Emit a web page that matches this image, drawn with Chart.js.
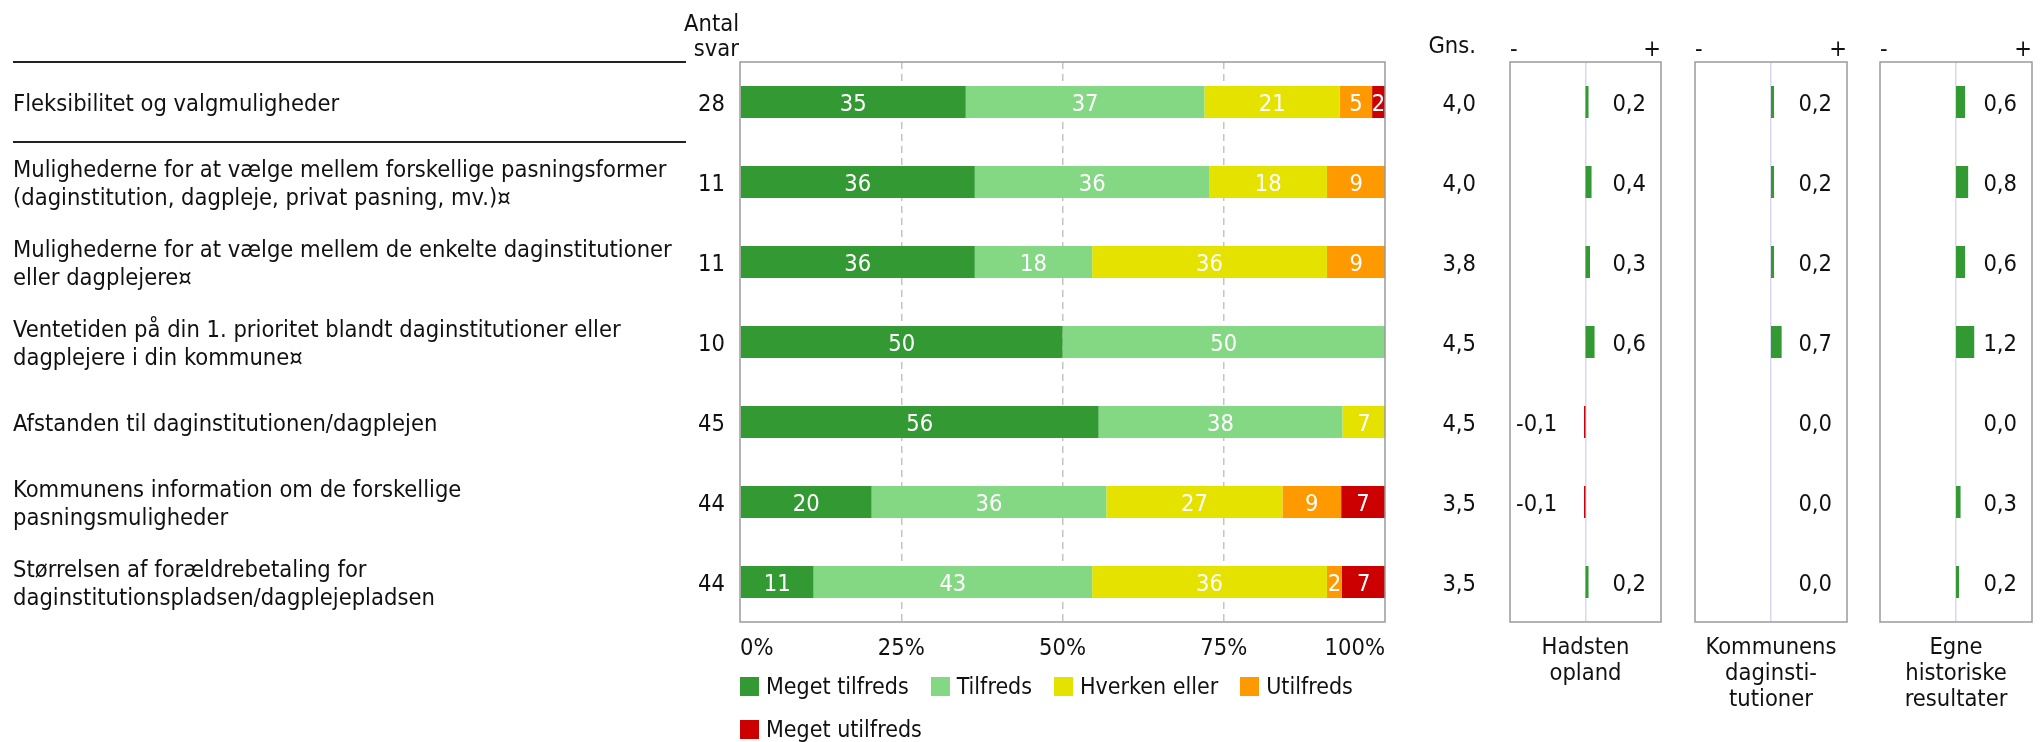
<!DOCTYPE html>
<html>
<head>
<meta charset="utf-8">
<script src="https://cdn.jsdelivr.net/npm/chart.js@4.4.1/dist/chart.umd.min.js"></script>
<style>
  html, body { margin: 0; padding: 0; background: #fff; }
  #wrap { position: relative; width: 2040px; height: 742px; overflow: hidden;
          font-family: 'DejaVu Sans Condensed', 'DejaVu Sans', sans-serif; color: #111; }
  canvas { position: absolute; top: 0; }
  #legend { position: absolute; left: 740px; top: 676px; width: 660px; display: flex; flex-wrap: wrap;
            column-gap: 22px; row-gap: 23px; font-size: 23px; }
  #legend .item { display: flex; align-items: center; height: 20px; white-space: nowrap; }
  #legend .box { width: 19px; height: 19px; margin-right: 7px; }
</style>
</head>
<body>
<div id="wrap">
  <canvas id="main" width="1490" height="742" style="left:0px"></canvas>
  <canvas id="p0" width="171" height="742" style="left:1500px"></canvas>
  <canvas id="p1" width="172" height="742" style="left:1685px"></canvas>
  <canvas id="p2" width="170" height="742" style="left:1870px"></canvas>
  <div id="legend"></div>
</div>
<script>
const FONT = "'DejaVu Sans Condensed', 'DejaVu Sans', sans-serif";

const questions = [
  ['Fleksibilitet og valgmuligheder'],
  ['Mulighederne for at vælge mellem forskellige pasningsformer', '(daginstitution, dagpleje, privat pasning, mv.)¤'],
  ['Mulighederne for at vælge mellem de enkelte daginstitutioner', 'eller dagplejere¤'],
  ['Ventetiden på din 1. prioritet blandt daginstitutioner eller', 'dagplejere i din kommune¤'],
  ['Afstanden til daginstitutionen/dagplejen'],
  ['Kommunens information om de forskellige', 'pasningsmuligheder'],
  ['Størrelsen af forældrebetaling for', 'daginstitutionspladsen/dagplejepladsen']
];
const antalSvar = [28, 11, 11, 10, 45, 44, 44];
const gennemsnit = [4.0, 4.0, 3.8, 4.5, 4.5, 3.5, 3.5];
const antalHeader = ['Antal', 'svar'];
const gnsHeader = 'Gns.';

const categories = ['Meget tilfreds', 'Tilfreds', 'Hverken eller', 'Utilfreds', 'Meget utilfreds'];
const colors = ['#339933', '#84d884', '#e6e200', '#ff9900', '#cc0000'];
const megetTilfreds = [35, 36.4, 36.4, 50, 55.6, 20.4, 11.4];
const tilfreds = [37, 36.4, 18.2, 50, 37.8, 36.4, 43.2];
const hverkenEller = [21, 18.2, 36.4, 0, 6.7, 27.3, 36.4];
const utilfreds = [5, 9.1, 9.1, 0, 0, 9.1, 2.3];
const megetUtilfreds = [2, 0, 0, 0, 0, 6.8, 6.8];
const series = [megetTilfreds, tilfreds, hverkenEller, utilfreds, megetUtilfreds];
const pctStep = 25;

const panelTitles = [['Hadsten', 'opland'], ['Kommunens', 'daginsti-', 'tutioner'], ['Egne', 'historiske', 'resultater']];
const hadstenOpland = [0.2, 0.4, 0.3, 0.6, -0.1, -0.1, 0.2];
const kommunensDaginstitutioner = [0.2, 0.2, 0.2, 0.7, 0.0, 0.0, 0.0];
const egneHistoriske = [0.6, 0.8, 0.6, 1.2, 0.0, 0.3, 0.2];
const panelSeries = [hadstenOpland, kommunensDaginstitutioner, egneHistoriske];
const diffRange = 5;

const font = { family: FONT, size: 23.5 };
const textColor = '#111';
const none = 'rgba(0,0,0,0)';
const textDrop = 3; // text sits a little below the bar centre in the original
const comma = v => v.toFixed(1).replace('.', ',');

const frame = {
  id: 'frame',
  afterDatasetsDraw(chart) {
    const { ctx, chartArea: a } = chart;
    ctx.save();
    ctx.strokeStyle = '#9a9a9a';
    ctx.lineWidth = 1.5;
    ctx.strokeRect(a.left, a.top, a.right - a.left, a.bottom - a.top);
    ctx.restore();
  }
};

const segmentLabels = {
  id: 'segmentLabels',
  afterDatasetsDraw(chart) {
    const { ctx } = chart;
    ctx.save();
    ctx.font = `${font.size}px ${FONT}`;
    ctx.fillStyle = '#fff';
    ctx.textAlign = 'center';
    ctx.textBaseline = 'middle';
    chart.data.datasets.forEach((ds, i) => {
      chart.getDatasetMeta(i).data.forEach((bar, j) => {
        const v = ds.data[j];
        if (!v) return;
        const p = bar.getCenterPoint();
        ctx.fillText(Math.round(v), p.x, p.y + textDrop);
      });
    });
    ctx.restore();
  }
};

const headers = {
  id: 'headers',
  afterDraw(chart) {
    const { ctx, scales } = chart;
    ctx.save();
    ctx.font = `${font.size}px ${FONT}`;
    ctx.fillStyle = textColor;
    ctx.textAlign = 'right';
    ctx.fillText(antalHeader[0], scales.yc.right - 1, 31);
    ctx.fillText(antalHeader[1], scales.yc.right - 1, 56);
    ctx.fillText(gnsHeader, scales.yg.right, 53);
    ctx.restore();
  }
};

const mainChart = new Chart(document.getElementById('main'), {
  type: 'bar',
  data: {
    labels: questions,
    datasets: categories.map((name, i) => ({
      label: name,
      data: series[i],
      backgroundColor: colors[i],
      barPercentage: 0.4,
      categoryPercentage: 1
    }))
  },
  options: {
    indexAxis: 'y',
    responsive: false,
    animation: false,
    devicePixelRatio: 1,
    layout: { padding: { left: 13, right: 14, top: 62, bottom: 0 } },
    plugins: { legend: { display: false }, tooltip: { enabled: false } },
    scales: {
      x: {
        type: 'linear', stacked: true, min: 0, max: 100,
        afterFit: s => { s.height = 120; },
        ticks: { stepSize: pctStep, align: 'inner', padding: 13, font, color: textColor, callback: v => v + '%' },
        grid: {
          drawTicks: false, lineWidth: 1.5,
          color: c => (c.tick && c.tick.value > 0 && c.tick.value < 100) ? '#c4c4c4' : none
        },
        border: { display: false, dash: [7, 5] }
      },
      y: {
        type: 'category', stacked: true, position: 'left', weight: 2, offset: true,
        afterFit: s => { s.width = 673; },
        ticks: { crossAlign: 'far', autoSkip: false, labelOffset: textDrop,
                 font: { ...font, lineHeight: 1.16 }, color: textColor },
        grid: {
          offset: true, drawOnChartArea: false, tickLength: 673, lineWidth: 2,
          color: c => [0, 1, questions.length].includes(c.index) ? '#222' : none
        },
        border: { display: false }
      },
      yc: {
        type: 'category', labels: antalSvar.map(String), position: 'left', weight: 1, offset: true,
        afterFit: s => { s.width = 54; },
        ticks: { padding: 7, labelOffset: textDrop, font, color: textColor },
        grid: { display: false }, border: { display: false }
      },
      yg: {
        type: 'category', labels: gennemsnit.map(comma), position: 'right', offset: true,
        afterFit: s => { s.width = 91; },
        ticks: { crossAlign: 'far', labelOffset: textDrop, font, color: textColor },
        grid: { display: false }, border: { display: false }
      }
    }
  },
  plugins: [segmentLabels, frame, headers]
});

// legend built from the chart's own legend items
const legendEl = document.getElementById('legend');
Chart.defaults.plugins.legend.labels.generateLabels(mainChart).forEach(item => {
  const div = document.createElement('div');
  div.className = 'item';
  const box = document.createElement('span');
  box.className = 'box';
  box.style.background = item.fillStyle;
  div.appendChild(box);
  div.appendChild(document.createTextNode(item.text));
  legendEl.appendChild(div);
});

const diffLabels = {
  id: 'diffLabels',
  afterDatasetsDraw(chart) {
    const { ctx, chartArea: a } = chart;
    const ds = chart.data.datasets[0];
    ctx.save();
    ctx.font = `${font.size}px ${FONT}`;
    ctx.fillStyle = textColor;
    ctx.textBaseline = 'middle';
    chart.getDatasetMeta(0).data.forEach((bar, j) => {
      const v = ds.data[j];
      if (v < 0) {
        ctx.textAlign = 'left';
        ctx.fillText(comma(v), a.left + 6, bar.y + textDrop);
      } else {
        ctx.textAlign = 'right';
        ctx.fillText(comma(v), a.right - 15, bar.y + textDrop);
      }
    });
    ctx.restore();
  }
};

panelSeries.forEach((values, k) => {
  const title = panelTitles[k];
  new Chart(document.getElementById('p' + k), {
    type: 'bar',
    data: {
      labels: antalSvar.map((n, i) => i),
      datasets: [{
        data: values,
        backgroundColor: values.map(v => v < 0 ? colors[4] : colors[0]),
        barPercentage: 0.4,
        categoryPercentage: 1
      }]
    },
    options: {
      indexAxis: 'y',
      responsive: false,
      animation: false,
      devicePixelRatio: 1,
      layout: { padding: { left: 10, right: k === 2 ? 8 : 10, top: 0, bottom: 0 } },
      plugins: { legend: { display: false }, tooltip: { enabled: false } },
      scales: {
        x: {
          type: 'linear', min: -diffRange, max: diffRange, position: 'bottom',
          afterFit: s => { s.height = 120; },
          ticks: { display: false }, grid: { display: false }, border: { display: false },
          title: {
            display: true, text: title, color: textColor,
            font: { ...font, lineHeight: 26 / 23.5 },
            padding: { top: 0, bottom: 120 - 26 * title.length - 13 }
          }
        },
        xt: {
          type: 'linear', min: -diffRange, max: diffRange, position: 'top',
          afterFit: s => { s.height = 62; },
          afterBuildTicks: s => { s.ticks = [-diffRange, 0, diffRange].map(v => ({ value: v })); },
          ticks: { align: 'inner', padding: 0, font: { ...font, lineHeight: 1 }, color: textColor,
                   callback: v => v < 0 ? '-' : v > 0 ? '+' : '' },
          grid: { drawTicks: false, lineWidth: 1.5, color: c => (c.tick && c.tick.value === 0) ? '#d8d8f0' : none },
          border: { display: false }
        },
        y: { type: 'category', display: false, offset: true }
      }
    },
    plugins: [frame, diffLabels]
  });
});
</script>
</body>
</html>
